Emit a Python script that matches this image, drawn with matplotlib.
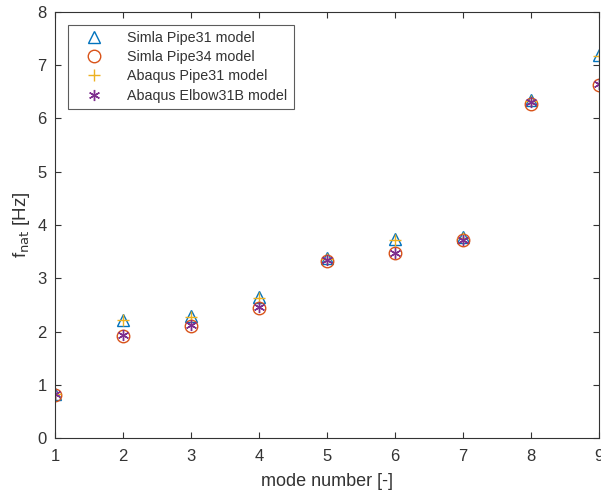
import matplotlib
matplotlib.use("Agg")
import matplotlib.pyplot as plt

modes = [1, 2, 3, 4, 5, 6, 7, 8, 9]
simla_pipe31 = [0.83, 2.22, 2.30, 2.65, 3.38, 3.73, 3.77, 6.35, 7.19]
simla_pipe34 = [0.81, 1.92, 2.10, 2.45, 3.33, 3.47, 3.72, 6.28, 6.62]
abaqus_pipe31 = [0.83, 2.21, 2.28, 2.63, 3.37, 3.72, 3.75, 6.33, 7.18]
abaqus_elbow31b = [0.82, 1.93, 2.12, 2.47, 3.35, 3.48, 3.72, 6.30, 6.65]
labels = ["Simla Pipe31 model", "Simla Pipe34 model", "Abaqus Pipe31 model", "Abaqus Elbow31B model"]

plt.rcParams['font.family'] = ['Liberation Sans', 'DejaVu Sans']
fig = plt.figure(figsize=(6.01, 4.94), dpi=100)
ax = fig.add_axes([0.0915, 0.113, 0.905, 0.863])

ax.plot(modes, simla_pipe31, linestyle='none', marker='^', mfc='none', mec='#0072BD', ms=9, mew=1.0, label=labels[0])
ax.plot(modes, simla_pipe34, linestyle='none', marker='o', mfc='none', mec='#D95319', ms=9, mew=1.0, label=labels[1])
ax.plot(modes, abaqus_pipe31, linestyle='none', marker='+', mfc='none', mec='#EDB120', ms=9, mew=1.0, label=labels[2])
ax.plot(modes, abaqus_elbow31b, linestyle='none', marker=(6, 2, 0), mfc='none', mec='#7E2F8E', ms=8, mew=1.0, label=labels[3])

txt = '#333333'
ax.set_xlim(1, 9)
ax.set_ylim(0, 8)
ax.set_xticks(range(1, 10))
ax.set_yticks(range(0, 9))
ax.tick_params(direction='in', length=4, width=0.8, colors='#333333', labelsize=12, top=True, right=True)
ax.tick_params(axis='x', pad=8)
ax.tick_params(axis='y', pad=6)
for s in ax.spines.values():
    s.set_color('#333333')
    s.set_linewidth(0.8)
ax.set_xlabel('mode number [-]', fontsize=13, color=txt, labelpad=6)
ax.set_ylabel(r'f$_{\mathrm{nat}}$ [Hz]', fontsize=13.5, color=txt)

leg = ax.legend(loc='upper left', fontsize=10.3, frameon=True, fancybox=False, edgecolor='#333333',
                borderaxespad=0.9, handletextpad=0.9, labelspacing=0.36, borderpad=0.45, handlelength=2.8)
leg.get_frame().set_linewidth(0.8)
for t in leg.get_texts():
    t.set_color(txt)

fig.savefig('out.png', dpi=100)
